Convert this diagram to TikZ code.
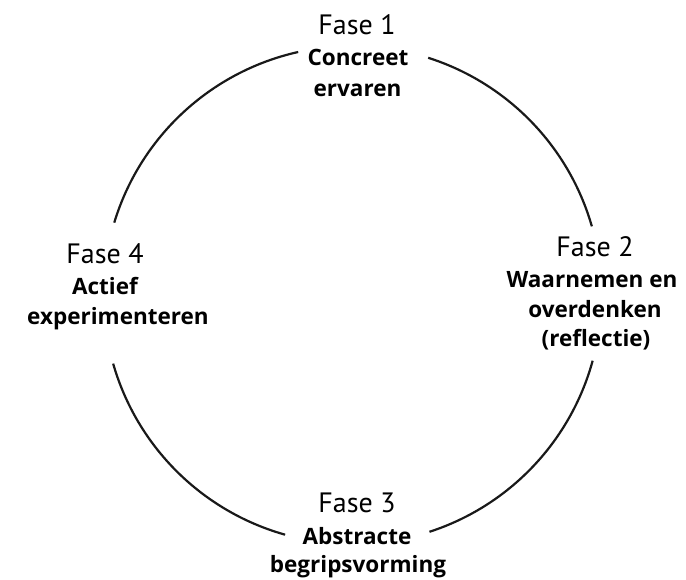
\documentclass[tikz,border=0pt]{standalone}
\usepackage{fontspec}
\setmainfont{PT Sans}
\newfontfamily\descfont{Open Sans}
\begin{document}
\begin{tikzpicture}[x=1pt,y=1pt,
  fase/.style={anchor=base,inner sep=0pt,font=\fontsize{28}{34}\selectfont},
  desc/.style={anchor=base,inner sep=0pt,font=\descfont\fontsize{22.5}{28}\selectfont\bfseries},
  ring/.style={line width=2.2pt,black!90}]
\useasboundingbox (0,0) rectangle (686,580);
\coordinate (c) at (352.5,285);
% Phase 1
\node[fase] (f1) at (357,545) {Fase 1};
\node[desc] (d1a) at (358,514) {Concreet};
\node[desc] (d1b) at (357.5,483) {ervaren};
% Phase 2
\node[fase] (f2) at (595,323) {Fase 2};
\node[desc] (d2a) at (592,292) {Waarnemen en};
\node[desc] (d2b) at (595,262) {overdenken};
\node[desc] (d2c) at (596,233) {(reflectie)};
% Phase 3
\node[fase] (f3) at (357,67) {Fase 3};
\node[desc] (d3a) at (357,35) {Abstracte};
\node[desc] (d3b) at (358,7) {begripsvorming};
% Phase 4
\node[fase] (f4) at (105,316) {Fase 4};
\node[desc] (d4a) at (105,285) {Actief};
\node[desc] (d4b) at (118,255) {experimenteren};
% ring segments
\draw[ring] ([shift={(72.3:249)}]c) arc[start angle=72.3,end angle=16,radius=249];
\draw[ring] ([shift={(-15.3:249)}]c) arc[start angle=-15.3,end angle=-72,radius=249];
\draw[ring] ([shift={(254.3:249)}]c) arc[start angle=254.3,end angle=196,radius=249];
\draw[ring] ([shift={(163.1:249)}]c) arc[start angle=163.1,end angle=102.6,radius=249];
\end{tikzpicture}
\end{document}
